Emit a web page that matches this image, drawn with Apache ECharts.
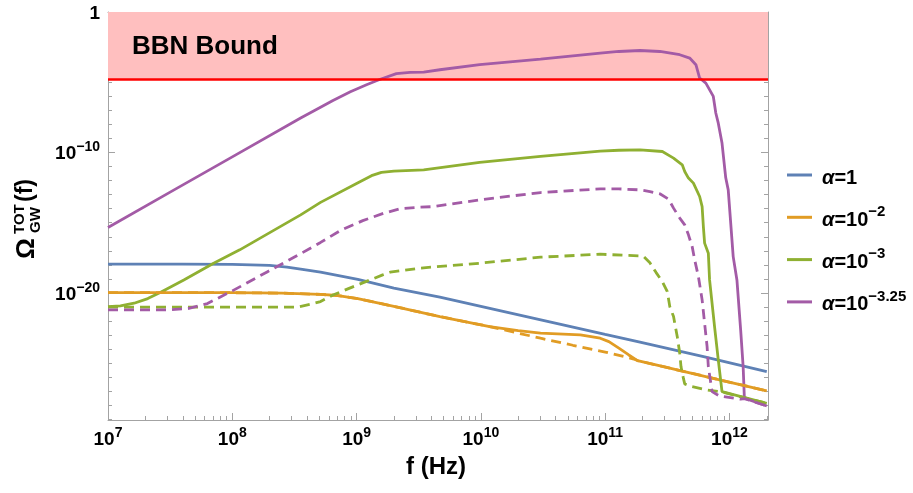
<!DOCTYPE html>
<html>
<head>
<meta charset="utf-8">
<script src="https://cdn.jsdelivr.net/npm/echarts@6/dist/echarts.min.js"></script>
<style>
  html, body { margin: 0; padding: 0; background: #fff; }
  #chart { width: 913px; height: 493px; }
</style>
</head>
<body>
<div id="chart"></div>
<script>
// Each curve: [log10 f (Hz), log10 Omega_GW^TOT]
const alpha1 = [[7.00,-17.95],[7.60,-17.95],[8.00,-17.97],[8.30,-18.04],[8.44,-18.16],[8.55,-18.30],[8.71,-18.52],[9.01,-19.03],[9.30,-19.66],[9.67,-20.30],[10.00,-20.95],[10.50,-21.95],[11.00,-22.95],[11.28,-23.50],[11.80,-24.55],[12.30,-25.60]];

const alpha2 = [[7.00,-19.97],[7.60,-19.97],[8.00,-19.98],[8.40,-20.01],[8.71,-20.10],[8.85,-20.18],[9.01,-20.40],[9.30,-20.95],[9.67,-21.68],[10.07,-22.39],[10.30,-22.68],[10.48,-22.86],[10.80,-22.98],[10.96,-23.22],[11.03,-23.46],[11.11,-23.93],[11.19,-24.41],[11.26,-24.81],[11.40,-25.10],[11.80,-25.93],[12.30,-26.97]];
const alpha2Dashed = [[7.00,-19.97],[7.60,-19.97],[8.00,-19.98],[8.40,-20.01],[8.71,-20.10],[8.85,-20.18],[9.01,-20.40],[9.30,-20.95],[9.67,-21.68],[10.07,-22.39],[10.48,-23.22],[10.74,-23.72],[11.01,-24.22],[11.23,-24.70],[11.26,-24.81],[11.40,-25.10],[11.80,-25.93],[12.30,-26.97]];

const alpha3 = [[7.00,-20.97],[7.10,-20.92],[7.21,-20.73],[7.32,-20.40],[7.42,-19.97],[7.61,-19.07],[7.85,-17.88],[8.06,-16.93],[8.20,-16.22],[8.55,-14.44],[8.71,-13.55],[9.00,-12.20],[9.12,-11.65],[9.20,-11.42],[9.30,-11.33],[9.54,-11.23],[9.99,-10.71],[10.48,-10.28],[10.96,-9.90],[11.11,-9.84],[11.28,-9.81],[11.46,-9.93],[11.55,-10.40],[11.62,-10.88],[11.64,-11.35],[11.67,-11.82],[11.71,-12.18],[11.76,-13.13],[11.78,-13.85],[11.79,-15.27],[11.80,-16.45],[11.83,-17.17],[11.84,-19.07],[11.88,-22.39],[11.91,-24.76],[11.94,-27.02],[12.30,-27.85]];
const alpha3Dashed = [[7.00,-21.01],[8.20,-21.01],[8.52,-21.01],[8.63,-20.80],[8.71,-20.61],[8.81,-20.14],[9.01,-19.42],[9.21,-18.71],[9.27,-18.52],[9.51,-18.23],[9.99,-17.88],[10.48,-17.45],[10.96,-17.24],[11.28,-17.36],[11.31,-17.41],[11.36,-17.85],[11.41,-18.55],[11.46,-19.19],[11.50,-19.90],[11.52,-20.97],[11.55,-21.68],[11.58,-23.11],[11.60,-24.29],[11.61,-25.24],[11.63,-26.10],[11.64,-26.47],[11.68,-26.62],[11.82,-26.90],[11.94,-27.05],[12.30,-27.85]];

const alpha325 = [[7.00,-15.34],[7.50,-12.82],[8.00,-10.31],[8.55,-7.55],[8.71,-6.78],[8.81,-6.30],[8.95,-5.68],[9.08,-5.18],[9.18,-4.82],[9.32,-4.39],[9.43,-4.30],[9.54,-4.28],[9.67,-4.11],[9.99,-3.75],[10.48,-3.35],[10.96,-2.92],[11.11,-2.81],[11.28,-2.74],[11.44,-2.81],[11.60,-3.04],[11.68,-3.28],[11.73,-3.75],[11.76,-4.70],[11.81,-5.06],[11.87,-6.01],[11.89,-7.19],[11.91,-7.91],[11.94,-9.33],[11.97,-11.80],[11.99,-12.66],[12.01,-15.03],[12.03,-17.41],[12.06,-19.07],[12.09,-22.63],[12.11,-25.24],[12.12,-27.49],[12.30,-28.04]];
const alpha325Dashed = [[7.00,-21.20],[7.50,-21.20],[7.65,-21.10],[7.80,-20.75],[8.00,-19.85],[8.28,-18.50],[8.55,-17.20],[8.71,-16.40],[8.87,-15.55],[9.05,-14.85],[9.22,-14.32],[9.35,-14.00],[9.50,-13.90],[9.62,-13.85],[9.99,-13.37],[10.48,-12.85],[10.96,-12.59],[11.11,-12.59],[11.28,-12.66],[11.36,-12.78],[11.44,-12.94],[11.51,-13.32],[11.55,-13.96],[11.60,-14.67],[11.64,-15.15],[11.67,-15.86],[11.70,-16.70],[11.72,-17.64],[11.75,-18.83],[11.78,-20.49],[11.82,-23.82],[11.83,-25.24],[11.86,-27.02],[11.92,-27.33],[12.09,-27.56],[12.12,-27.52],[12.30,-28.04]];

const seriesNames = ['α=1', 'α=10^−2', 'α=10^−3', 'α=10^−3.25'];
const seriesColors = ['#5E81B5', '#E19C24', '#8FB032', '#A35BA6'];

const bbnBound = -4.79;              // log10 of the BBN limit
const xDecades = [7, 8, 9, 10, 11, 12];
const yDecades = [0, -10, -20];
const xRange = [7, 12.31];
const yRange = [-29.04, 0];

const FONT = '"Liberation Sans", Arial, Helvetica, sans-serif';
const FRAME = '#a3a3a3';

// log-scale minor ticks: 2..9 inside each decade on x, every decade on y
const xMinor = [];
for (let n = 7; n <= 12; n++) {
  for (let k = 2; k <= 9; k++) {
    const v = n + Math.log10(k);
    if (v <= xRange[1]) xMinor.push(v);
  }
}
const yMinor = [];
for (let n = Math.ceil(yRange[0]); n <= 0; n++) yMinor.push(n);

const richTick = {
  b: { fontFamily: FONT, fontSize: 19, fontWeight: 'bold', color: '#000', lineHeight: 22, verticalAlign: 'bottom' },
  s: { fontFamily: FONT, fontSize: 14, fontWeight: 'bold', color: '#000', lineHeight: 14, verticalAlign: 'bottom', padding: [0, 0, 9, 0] }
};

function fmtX(v) { return '{b|10}{s|' + Math.round(v) + '}'; }
function fmtY(v) {
  const n = Math.round(v);
  return n === 0 ? '{b|1}' : '{b|10}{s|\u2212' + (-n) + '}';
}

function xAxisDef(grid, pos, ticks, len, labels) {
  return {
    type: 'value', gridIndex: grid, position: pos, min: xRange[0], max: xRange[1],
    axisLine: { show: grid === 0, onZero: false, lineStyle: { color: FRAME, width: 1 } },
    splitLine: { show: false },
    axisTick: { show: true, inside: true, length: len, customValues: ticks, lineStyle: { color: FRAME, width: 1 } },
    axisLabel: labels ? { show: true, customValues: xDecades, formatter: fmtX, rich: richTick, margin: 7 } : { show: false }
  };
}
function yAxisDef(grid, pos, ticks, len, labels) {
  return {
    type: 'value', gridIndex: grid, position: pos, min: yRange[0], max: yRange[1],
    axisLine: { show: grid === 0, onZero: false, lineStyle: { color: FRAME, width: 1 } },
    splitLine: { show: false },
    axisTick: { show: true, inside: true, length: len, customValues: ticks, lineStyle: { color: FRAME, width: 1 } },
    axisLabel: labels ? { show: true, customValues: yDecades, formatter: fmtY, rich: richTick, margin: 8 } : { show: false }
  };
}

function curve(name, color, data, dashed) {
  return {
    type: 'line', name: name, xAxisIndex: 0, yAxisIndex: 0, data: data,
    symbol: 'none', showSymbol: false, smooth: false, z: dashed ? 4 : 3,
    itemStyle: { color: color },
    lineStyle: { color: color, width: 2.8, type: dashed ? [10, 6] : 'solid' },
    emphasis: { disabled: true }
  };
}

const chart = echarts.init(document.getElementById('chart'), null, { renderer: 'canvas' });

chart.setOption({
  animation: false,
  backgroundColor: '#fff',
  grid: [
    { left: 108, top: 12, right: 145, bottom: 73 },
    { left: 108, top: 12, right: 145, bottom: 73 }
  ],
  xAxis: [
    xAxisDef(0, 'bottom', xDecades, 7, true),
    xAxisDef(0, 'top', xDecades, 7, false),
    xAxisDef(1, 'bottom', xMinor, 4, false),
    xAxisDef(1, 'top', xMinor, 4, false)
  ],
  yAxis: [
    yAxisDef(0, 'left', yDecades, 7, true),
    yAxisDef(0, 'right', yDecades, 7, false),
    yAxisDef(1, 'left', yMinor, 4, false),
    yAxisDef(1, 'right', yMinor, 4, false)
  ],
  legend: {
    data: seriesNames.map(function (n, i) { return { name: n, itemStyle: { color: seriesColors[i] } }; }),
    orient: 'vertical', left: 787, top: 168, padding: 0,
    icon: 'rect', itemWidth: 25, itemHeight: 3, itemGap: 16.3,
    selectedMode: false,
    formatter: function (name) {
      const parts = name.split('^');
      if (parts.length === 1) return '{a|α}{b|=' + name.split('=')[1] + '}';
      return '{a|α}{b|=10}{s|' + parts[1] + '}';
    },
    textStyle: {
      fontFamily: FONT, fontSize: 20, fontWeight: 'bold', color: '#000',
      rich: {
        a: { fontFamily: FONT, fontSize: 20, fontWeight: 'bold', fontStyle: 'italic', color: '#000', lineHeight: 26, verticalAlign: 'bottom', padding: [0, 0, 0, 5] },
        b: { fontFamily: FONT, fontSize: 20, fontWeight: 'bold', color: '#000', lineHeight: 26, verticalAlign: 'bottom' },
        s: { fontFamily: FONT, fontSize: 15, fontWeight: 'bold', color: '#000', lineHeight: 15, verticalAlign: 'bottom', padding: [0, 0, 11, 0] }
      }
    }
  },
  series: [
    {
      type: 'line', name: 'BBN', xAxisIndex: 0, yAxisIndex: 0, data: [], z: 1, silent: true,
      markArea: {
        silent: true,
        itemStyle: { color: '#FFBFBF', opacity: 1 },
        data: [[{ xAxis: xRange[0], yAxis: bbnBound }, { xAxis: xRange[1], yAxis: yRange[1] }]]
      },
      markLine: {
        silent: true, symbol: 'none', label: { show: false },
        lineStyle: { color: '#FF0000', width: 2.5, type: 'solid' },
        data: [{ yAxis: bbnBound }]
      }
    },
    curve(seriesNames[0], seriesColors[0], alpha1, false),
    curve(seriesNames[1], seriesColors[1], alpha2, false),
    curve(seriesNames[2], seriesColors[2], alpha3, false),
    curve(seriesNames[3], seriesColors[3], alpha325, false),
    curve(seriesNames[1], seriesColors[1], alpha2Dashed, true),
    curve(seriesNames[2], seriesColors[2], alpha3Dashed, true),
    curve(seriesNames[3], seriesColors[3], alpha325Dashed, true)
  ],
  graphic: [
    {
      type: 'text', x: 132, y: 47, z: 10, silent: true,
      style: { text: 'BBN Bound', font: 'bold 26px ' + FONT, fill: '#000', align: 'left', verticalAlign: 'middle' }
    },
    {
      type: 'text', x: 436, y: 467, z: 10, silent: true,
      style: { text: 'f (Hz)', font: 'bold 24px ' + FONT, fill: '#000', align: 'center', verticalAlign: 'middle' }
    },
    {
      // vertical axis title, written along the rotated frame
      type: 'group', x: 0, y: 259, rotation: Math.PI / 2, silent: true, z: 10,
      children: [
        { type: 'text', x: 0, y: 26.5, style: { text: 'Ω', font: 'bold 26px ' + FONT, fill: '#000', align: 'left', verticalAlign: 'middle' } },
        { type: 'text', x: 25, y: 19.5, style: { text: 'TOT', font: 'bold 15px ' + FONT, fill: '#000', align: 'left', verticalAlign: 'middle' } },
        { type: 'text', x: 26, y: 36, style: { text: 'GW', font: 'bold 15px ' + FONT, fill: '#000', align: 'left', verticalAlign: 'middle' } },
        { type: 'text', x: 57, y: 26, style: { text: '(f)', font: 'bold 23px ' + FONT, fill: '#000', align: 'left', verticalAlign: 'middle' } }
      ]
    }
  ]
});
</script>
</body>
</html>
